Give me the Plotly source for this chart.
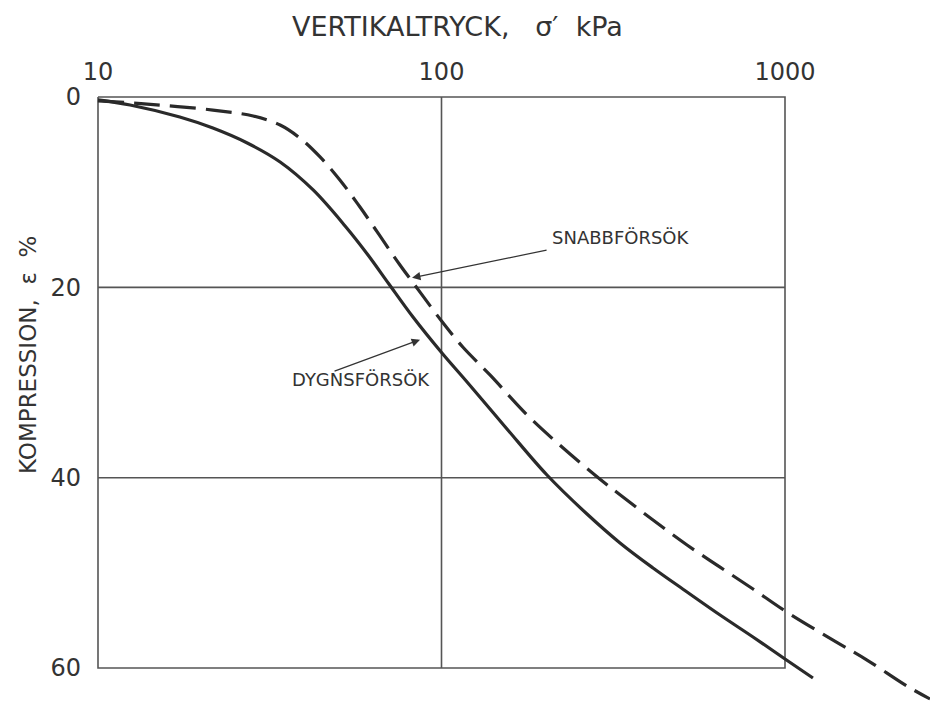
import math
import plotly.graph_objects as go

# Oedometer test: vertical pressure (kPa, log scale) vs compression (%)
pressure_dygn = [10, 12.4, 17.3, 21.6, 27.2, 33.9, 42.3, 52.4, 61.1, 70.3, 82.6, 100.3,
                 118.7, 155.1, 202.8, 265.2, 330.9, 412.8, 518.5, 647, 807, 1000, 1206]
strain_dygn = [0.3, 0.84, 2.1, 3.26, 4.83, 6.83, 9.77, 13.55, 16.6, 19.65, 23.12, 26.9,
               29.95, 34.88, 39.72, 43.82, 46.86, 49.49, 52.01, 54.43, 56.74, 59.05, 61.05]

pressure_snabb = [10, 13.9, 21.6, 28.3, 33.9, 38.7, 44.3, 50.6, 57.9, 66.2, 75.7, 86.6,
                  100.3, 115.5, 138.4, 177.4, 221.3, 283.6, 330.9, 412.8, 518.5,
                  647, 807, 1000, 1380, 1733, 2266, 2643]
strain_snabb = [0.4, 0.74, 1.37, 2.0, 2.94, 4.31, 6.3, 8.72, 11.56, 14.6, 17.65, 20.5,
                23.6, 26.3, 29.2, 33.4, 36.6, 39.9, 41.8, 44.45, 47.07,
                49.4, 51.7, 54.0, 57.06, 59.16, 61.9, 63.25]

x_ticks = [10, 100, 1000]
y_ticks = [0, 20, 40, 60]
x_frame = [10, 1000]
y_frame = [0, 60]

W, H = 930, 701
FRAME_LEFT, FRAME_TOP = 98, 97
PX_PER_DECADE = 343.5
PX_PER_PCT = 9.517
ML, MT = 90, 89

x_range = [math.log10(x_frame[0]) - (FRAME_LEFT - ML) / PX_PER_DECADE,
           math.log10(x_frame[0]) + (W - FRAME_LEFT) / PX_PER_DECADE]
y_range = [(H - FRAME_TOP) / PX_PER_PCT, -(FRAME_TOP - MT) / PX_PER_PCT]

FONT = "DejaVu Sans, sans-serif"
TXT = "#333333"
INK = "#2a2a2a"
GRID = "#555555"

fig = go.Figure()

# frame and grid
gx, gy = [], []
gx += [x_frame[0], x_frame[1], x_frame[1], x_frame[0], x_frame[0], None]
gy += [y_frame[0], y_frame[0], y_frame[1], y_frame[1], y_frame[0], None]
for xv in x_ticks[1:-1]:
    gx += [xv, xv, None]
    gy += [y_frame[0], y_frame[1], None]
for yv in y_ticks[1:-1]:
    gx += [x_frame[0], x_frame[1], None]
    gy += [yv, yv, None]
fig.add_trace(go.Scatter(x=gx, y=gy, mode="lines", line=dict(color=GRID, width=1.6),
                         hoverinfo="skip", showlegend=False))

fig.add_trace(go.Scatter(x=pressure_dygn, y=strain_dygn, mode="lines", name="DYGNSFÖRSÖK",
                         line=dict(color=INK, width=3.2, shape="spline", smoothing=1.0),
                         showlegend=False))
fig.add_trace(go.Scatter(x=pressure_snabb, y=strain_snabb, mode="lines", name="SNABBFÖRSÖK",
                         line=dict(color=INK, width=3.2, dash="26px,10px", shape="spline",
                                   smoothing=1.0),
                         showlegend=False))

lg = math.log10

# curve labels with leader arrows
fig.add_annotation(x=lg(333), y=14.8, xref="x", yref="y", text="SNABBFÖRSÖK", showarrow=False,
                   xanchor="center", yanchor="middle",
                   font=dict(family=FONT, size=18, color=TXT))
fig.add_annotation(x=lg(58.3), y=29.7, xref="x", yref="y", text="DYGNSFÖRSÖK", showarrow=False,
                   xanchor="center", yanchor="middle",
                   font=dict(family=FONT, size=18, color=TXT))
fig.add_annotation(x=lg(82.1), y=19.0, xref="x", yref="y", text="", showarrow=True,
                   ax=136, ay=-28, arrowhead=2, arrowsize=1.4, arrowwidth=1.2,
                   arrowcolor=TXT)
fig.add_annotation(x=lg(86.6), y=25.5, xref="x", yref="y", text="", showarrow=True,
                   ax=-87, ay=32, arrowhead=2, arrowsize=1.4, arrowwidth=1.2,
                   arrowcolor=TXT)

# axis titles, placed by pixel position then converted to paper fractions
pw, ph = W - ML, H - MT


def paper_x(px):
    return (px - ML) / pw


def paper_y(py):
    return 1 - (py - MT) / ph


fig.add_annotation(x=paper_x(457), y=paper_y(27), xref="paper", yref="paper",
                   text="VERTIKALTRYCK,   σ′  kPa", showarrow=False,
                   xanchor="center", yanchor="middle",
                   font=dict(family=FONT, size=27, color=TXT))
fig.add_annotation(x=paper_x(28), y=paper_y(355), xref="paper", yref="paper",
                   text="KOMPRESSION,  ε  %", textangle=-90, showarrow=False,
                   xanchor="center", yanchor="middle",
                   font=dict(family=FONT, size=23, color=TXT))

fig.update_xaxes(type="log", range=x_range, side="top", tickvals=x_ticks,
                 ticktext=[str(v) for v in x_ticks], showgrid=False, zeroline=False,
                 showline=False, ticks="", ticklabelstandoff=3,
                 tickfont=dict(family=FONT, size=24, color=TXT))
fig.update_yaxes(range=y_range, tickvals=y_ticks, ticktext=[str(v) for v in y_ticks],
                 showgrid=False, zeroline=False, showline=False, ticks="",
                 ticklabelstandoff=8,
                 tickfont=dict(family=FONT, size=24, color=TXT))

fig.update_layout(width=W, height=H, margin=dict(l=ML, r=0, t=MT, b=0),
                  paper_bgcolor="white", plot_bgcolor="white", showlegend=False)

fig.write_html("out.html")
